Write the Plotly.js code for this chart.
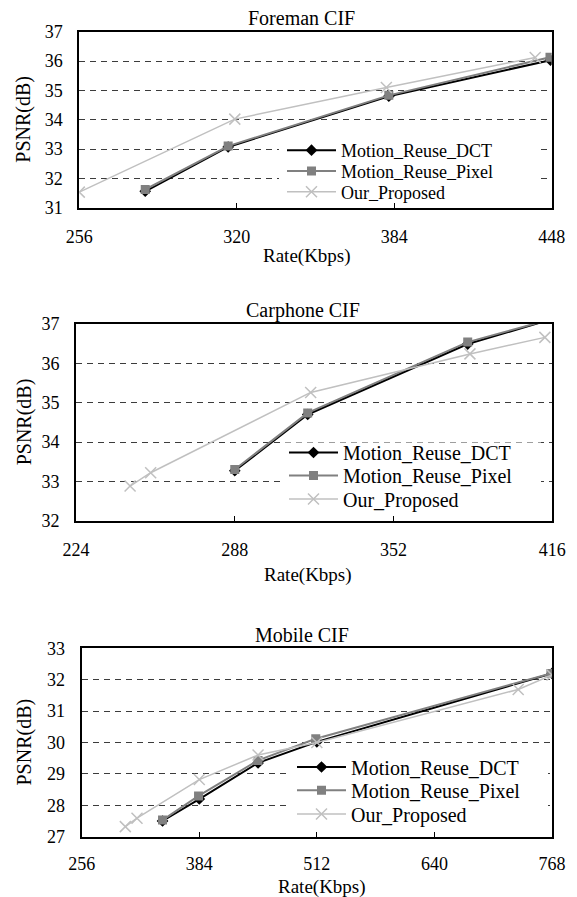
<!DOCTYPE html>
<html>
<head>
<meta charset="utf-8">
<script src="https://cdn.plot.ly/plotly-3.0.1.min.js"></script>
<style>
html,body{margin:0;padding:0;background:#fff;}
#chart{width:577px;height:897px;}
</style>
</head>
<body>
<div id="chart"></div>
<script>
// ---------- DATA ----------
const seriesNames = ["Motion_Reuse_DCT", "Motion_Reuse_Pixel", "Our_Proposed"];
const chartTitles = ["Foreman CIF", "Carphone CIF", "Mobile CIF"];

// Foreman CIF
const foremanRateDCT   = [282.8, 316.5, 381.8, 447.5];
const foremanPsnrDCT   = [31.56, 33.07, 34.80, 36.03];
const foremanRatePixel = [282.8, 316.5, 381.8, 447.3];
const foremanPsnrPixel = [31.62, 33.10, 34.83, 36.13];
const foremanRateOur   = [256.0, 319.2, 380.8, 441.3];
const foremanPsnrOur   = [31.53, 34.02, 35.10, 36.12];

// Carphone CIF
const carphoneRateDCT   = [288.0, 317.4, 381.9, 417.2];
const carphonePsnrDCT   = [33.27, 34.70, 36.49, 37.15];
const carphoneRatePixel = [288.0, 317.4, 381.9, 417.2];
const carphonePsnrPixel = [33.30, 34.74, 36.54, 37.15];
const carphoneRateOur   = [245.8, 254.1, 318.6, 382.8, 413.0];
const carphonePsnrOur   = [32.88, 33.22, 35.26, 36.24, 36.66];

// Mobile CIF
const mobileRateDCT   = [344.0, 384.0, 448.0, 512.0, 768.0];
const mobilePsnrDCT   = [27.50, 28.20, 29.35, 30.02, 32.20];
const mobileRatePixel = [344.0, 383.2, 448.0, 510.8, 766.8];
const mobilePsnrPixel = [27.53, 28.30, 29.43, 30.12, 32.20];
const mobileRateOur   = [303.5, 316.2, 384.0, 448.0, 512.0, 731.2, 768.0];
const mobilePsnrOur   = [27.32, 27.59, 28.82, 29.60, 30.00, 31.69, 32.15];

// tick labels
const foremanXTicks  = [256, 320, 384, 448];
const carphoneXTicks = [224, 288, 352, 416];
const mobileXTicks   = [256, 384, 512, 640, 768];
const foremanYRange  = [31, 37];
const carphoneYRange = [32, 37];
const mobileYRange   = [27, 33];
const xTitle = "Rate(Kbps)";
const yTitle = "PSNR(dB)";

// ---------- LAYOUT GEOMETRY (pixels) ----------
const W = 577, H = 897;
const boxes = [
  {l: 79.3, r: 551.7, t: 31.7, b: 207.7},
  {l: 76.0, r: 552.3, t: 324.0, b: 520.7},
  {l: 81.7, r: 552.0, t: 648.3, b: 836.7}
];
const legendRows = [
  {line: 287, rows: [150.5, 171.3, 192.0], size: 18},
  {line: 289, rows: [452.5, 475.5, 499.0], size: 20},
  {line: 297, rows: [767.0, 790.3, 814.0], size: 20}
];
const xLabelStandoff = [12, 12, 10];
const titleY = [18, 310, 635];
const titleX = [301, 303, 302];
const xTitleY = [256, 575, 887];
const xTitleX = [307, 308, 322];
const yTitleX = 24;

const FONT = "'Liberation Serif', 'Times New Roman', serif";

const styles = [
  {line: {color: "#000000", width: 2}, marker: {symbol: "diamond", size: 9, color: "#000000"}},
  {line: {color: "#808080", width: 2}, marker: {symbol: "square", size: 9, color: "#808080"}},
  {line: {color: "#c0c0c0", width: 1.5}, marker: {symbol: "x-thin", size: 11, color: "#c0c0c0", line: {color: "#c0c0c0", width: 1.5}}}
];

const chartData = [
  [[foremanRateDCT, foremanPsnrDCT], [foremanRatePixel, foremanPsnrPixel], [foremanRateOur, foremanPsnrOur]],
  [[carphoneRateDCT, carphonePsnrDCT], [carphoneRatePixel, carphonePsnrPixel], [carphoneRateOur, carphonePsnrOur]],
  [[mobileRateDCT, mobilePsnrDCT], [mobileRatePixel, mobilePsnrPixel], [mobileRateOur, mobilePsnrOur]]
];
const xTicks = [foremanXTicks, carphoneXTicks, mobileXTicks];
const yRanges = [foremanYRange, carphoneYRange, mobileYRange];

const traces = [];
const layout = {
  width: W, height: H,
  margin: {l: 0, r: 0, t: 0, b: 0},
  paper_bgcolor: "#ffffff",
  plot_bgcolor: "#ffffff",
  font: {family: FONT, size: 18, color: "#000000"},
  showlegend: true,
  annotations: [],
  shapes: []
};

let legendIdx = 0;
for (let c = 0; c < 3; c++) {
  const bx = boxes[c];
  const xa = c === 0 ? "xaxis" : "xaxis" + (c + 1);
  const ya = c === 0 ? "yaxis" : "yaxis" + (c + 1);
  const xr = c === 0 ? "x" : "x" + (c + 1);
  const yr = c === 0 ? "y" : "y" + (c + 1);
  const xt = xTicks[c];
  layout[xa] = {
    domain: [bx.l / W, bx.r / W],
    range: [xt[0], xt[xt.length - 1]],
    tickvals: xt,
    ticktext: xt.map(String),
    anchor: yr,
    ticks: "inside", ticklen: 5, tickwidth: 1, tickcolor: "#000",
    showline: true, linecolor: "#000", linewidth: 2, mirror: true,
    showgrid: false, zeroline: false,
    tickfont: {family: FONT, size: 18, color: "#000"},
    ticklabelstandoff: xLabelStandoff[c],
    fixedrange: true
  };
  layout[ya] = {
    domain: [1 - bx.b / H, 1 - bx.t / H],
    range: yRanges[c],
    dtick: 1, tick0: 0,
    anchor: xr,
    ticks: "",
    showline: true, linecolor: "#000", linewidth: 2, mirror: true,
    showgrid: true, gridcolor: "#3c3c3c", gridwidth: 1, griddash: "6px,5px",
    zeroline: false,
    tickfont: {family: FONT, size: 18, color: "#000"},
    ticklabelstandoff: 11,
    fixedrange: true
  };

  // legend background (white area covering gridlines)
  const lr = legendRows[c];
  layout.shapes.push({
    type: "rect", xref: "paper", yref: "paper", layer: "above",
    x0: (lr.line - 8) / W, x1: Math.min(lr.line + 252, bx.r - 4) / W,
    y0: 1 - (lr.rows[2] + 11) / H, y1: 1 - (lr.rows[0] - 10) / H,
    fillcolor: "#ffffff", line: {width: 0}
  });

  for (let s = 0; s < 3; s++) {
    legendIdx++;
    const lgName = legendIdx === 1 ? "legend" : "legend" + legendIdx;
    traces.push({
      type: "scatter", mode: "lines+markers",
      x: chartData[c][s][0], y: chartData[c][s][1],
      xaxis: xr, yaxis: yr,
      name: seriesNames[s],
      legend: lgName,
      line: styles[s].line,
      marker: styles[s].marker
    });
    layout[lgName] = {
      x: (lr.line - 5) / W, xanchor: "left",
      y: 1 - lr.rows[s] / H, yanchor: "middle",
      bgcolor: "rgba(0,0,0,0)", borderwidth: 0,
      font: {family: FONT, size: lr.size, color: "#000"},
      itemwidth: 49
    };
  }

  layout.annotations.push({
    text: chartTitles[c], xref: "paper", yref: "paper",
    x: titleX[c] / W, y: 1 - titleY[c] / H, xanchor: "center", yanchor: "middle",
    showarrow: false, font: {family: FONT, size: 20, color: "#000"}
  });
  layout.annotations.push({
    text: xTitle, xref: "paper", yref: "paper",
    x: xTitleX[c] / W, y: 1 - xTitleY[c] / H, xanchor: "center", yanchor: "middle",
    showarrow: false, font: {family: FONT, size: 19, color: "#000"}
  });
  layout.annotations.push({
    text: yTitle, xref: "paper", yref: "paper", textangle: -90,
    x: yTitleX / W, y: 1 - (bx.t + bx.b) / 2 / H, xanchor: "center", yanchor: "middle",
    showarrow: false, font: {family: FONT, size: 20, color: "#000"}
  });
}

Plotly.newPlot("chart", traces, layout, {displayModeBar: false, staticPlot: true});
</script>
</body>
</html>
